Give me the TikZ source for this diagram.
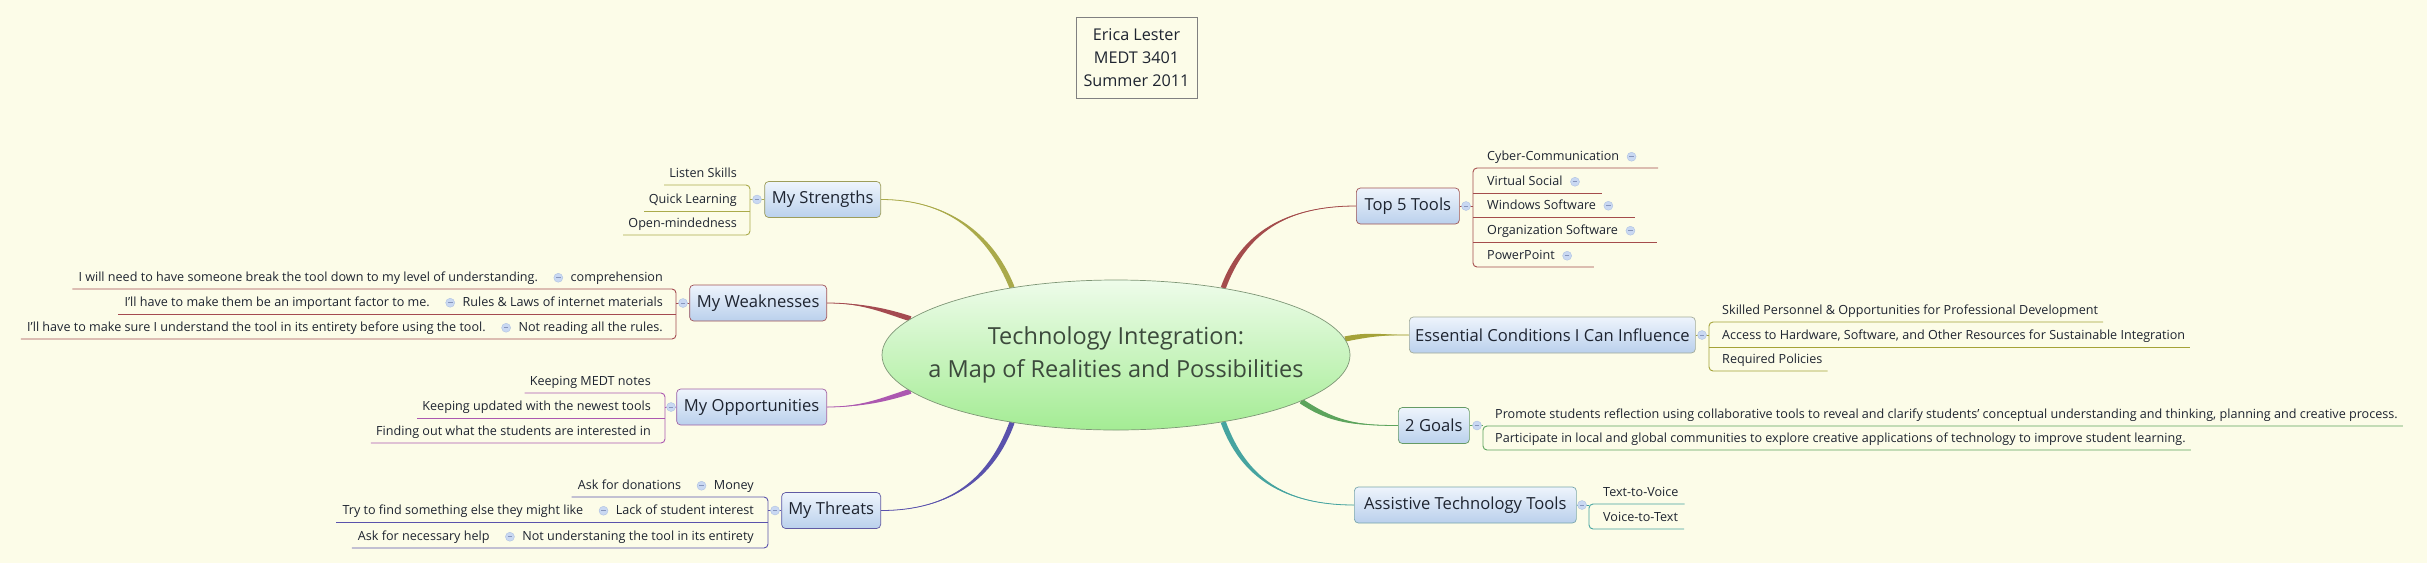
\documentclass[tikz,border=0pt]{standalone}
\usepackage{fontspec}
\setmainfont{Open Sans}
\usetikzlibrary{shapes.geometric,positioning,calc}

\definecolor{paper}{HTML}{FCFCE8}
\definecolor{inkdark}{HTML}{1E2430}
\definecolor{coreink}{HTML}{3C4A3C}
\definecolor{coretop}{HTML}{EEFCEA}
\definecolor{corebot}{HTML}{A4EC94}
\definecolor{corerim}{HTML}{7E9676}
\definecolor{boxtop}{HTML}{EEF4FC}
\definecolor{boxbot}{HTML}{BAD0EC}
\definecolor{knobfill}{HTML}{C9D8F2}
\definecolor{knobrim}{HTML}{AFC2E2}
\definecolor{knobbar}{HTML}{8796BC}
\definecolor{strc}{HTML}{AAAA4A}
\definecolor{weakc}{HTML}{A44A50}
\definecolor{oppc}{HTML}{AC58B0}
\definecolor{thrc}{HTML}{5A52AC}
\definecolor{topc}{HTML}{A44C4C}
\definecolor{essc}{HTML}{A4A238}
\definecolor{goalc}{HTML}{5CA45C}
\definecolor{asstc}{HTML}{46A4A0}

\pgfdeclarelayer{under}
\pgfsetlayers{under,main}

\newcommand{\limbto}[5]{%
  \path (#2) ++(#4) coordinate (lc);
  \fill[#1] ($(#2)!2.6pt!90:(lc)$) .. controls +(#4) and +(#5) .. (#3)
    .. controls +(#5) and +(#4) .. ($(#2)!2.6pt!-90:(lc)$) -- cycle;
  \draw[#1, line width=0.8pt] (#2) .. controls +(#4) and +(#5) .. (#3);
}

\begin{document}
\begin{tikzpicture}[x=1pt, y=-1pt,
  core/.style={ellipse, draw=corerim, line width=0.7pt, top color=coretop, bottom color=corebot,
    minimum width=468pt, minimum height=150pt, inner xsep=-30pt, inner ysep=0pt, align=center, text=coreink,
    font=\fontsize{23.5}{33}\selectfont},
  limbbox/.style={rounded corners=4pt, line width=0.7pt, top color=boxtop, bottom color=boxbot,
    minimum height=36pt, inner xsep=5pt, text=inkdark, font=\fontsize{16.6}{20}\selectfont},
  leaf/.style={inner sep=0pt, text height=9.5pt, text depth=3pt, text=inkdark,
    font=\fontsize{12.6}{15}\selectfont},
  knob/.style={circle, draw=knobrim, fill=knobfill, minimum size=9pt, inner sep=0pt,
    path picture={\draw[knobbar, line width=0.8pt] ([xshift=2.2pt]path picture bounding box.west)
      -- ([xshift=-2.2pt]path picture bounding box.east);}},
  twig/.style={line width=0.9pt, rounded corners=4pt}]
\useasboundingbox (0,0) rectangle (2427,563);

\node[draw=gray, line width=0.6pt, minimum width=121pt, minimum height=81pt, align=center,
  text=inkdark, font=\fontsize{16.2}{23}\selectfont] (stamp) at (1136.5,57.5) {Erica Lester\\MEDT 3401\\Summer 2011};

\node[core] (core) at (1116,355) {Technology Integration:\\a Map of Realities and Possibilities};

\node[limbbox, draw=strc!70!gray, minimum width=116pt, anchor=east] (str) at (881,199.5) {My Strengths};
\node[limbbox, draw=weakc!85!gray, minimum width=137pt, anchor=east] (weak) at (827,303) {My Weaknesses};
\node[limbbox, draw=oppc!75!gray, minimum width=150pt, anchor=east] (opp) at (827,407) {My Opportunities};
\node[limbbox, draw=thrc!80!gray, minimum width=99pt, anchor=east] (thr) at (881,510.5) {My Threats};
\node[limbbox, draw=topc!85!gray, minimum width=103pt, anchor=west] (top) at (1356,206) {Top 5 Tools};
\node[limbbox, draw=essc!40!boxbot!70!gray, minimum width=286pt, anchor=west] (ess) at (1409,335) {Essential Conditions I Can Influence};
\node[limbbox, draw=goalc!75!gray, minimum width=71pt, anchor=west] (goal) at (1398,425.5) {2 Goals};
\node[limbbox, draw=asstc!60!boxbot!70!gray, minimum width=222pt, anchor=west] (asst) at (1354,505) {Assistive Technology Tools};

% left side
\node[leaf, anchor=base east] (str1) at (737,177) {Listen Skills};
\node[leaf, anchor=base east] (str2) at (737,203) {Quick Learning};
\node[leaf, anchor=base east] (str3) at (737,227) {Open-mindedness};
\coordinate (strv1) at (750,185);
\coordinate (strv2) at (750,211);
\coordinate (strv3) at (750,235);
\draw[twig, strc] ($(str1.base west)+(-5,8)$) -- (strv1) -- (strv3) -- ($(str3.base west)+(-5,8)$);
\draw[twig, strc] (strv2) -- ($(str2.base west)+(-5,8)$);
\draw[twig, strc] (str.west) -- (str.west -| strv1);
\node[knob] (kstr) at (757,199.5) {};

\node[leaf, anchor=base east] (weak1) at (663,281) {comprehension};
\node[leaf, anchor=base east] (weak2) at (663,306) {Rules \& Laws of internet materials};
\node[leaf, anchor=base east] (weak3) at (663,331) {Not reading all the rules.};
\node[knob, left=7.5pt of weak1] (kweak1) {};
\node[knob, left=7.5pt of weak2] (kweak2) {};
\node[knob, left=7.5pt of weak3] (kweak3) {};
\node[leaf, left=15.5pt of kweak1] (weak1a) {I will need to have someone break the tool down to my level of understanding.};
\node[leaf, left=15.5pt of kweak2] (weak2a) {I'll have to make them be an important factor to me.};
\node[leaf, left=15.5pt of kweak3] (weak3a) {I'll have to make sure I understand the tool in its entirety before using the tool.};
\coordinate (weakv1) at (676,289);
\coordinate (weakv2) at (676,314);
\coordinate (weakv3) at (676,339);
\draw[twig, weakc] ($(weak1a.base west)+(-6,8)$) -- (weakv1) -- (weakv3) -- ($(weak3a.base west)+(-6,8)$);
\draw[twig, weakc] (weakv2) -- ($(weak2a.base west)+(-6,8)$);
\draw[twig, weakc] (weak.west) -- (weak.west -| weakv1);
\node[knob] (kweak) at (683,303) {};

\node[leaf, anchor=base east] (opp1) at (651,385) {Keeping MEDT notes};
\node[leaf, anchor=base east] (opp2) at (651,410) {Keeping updated with the newest tools};
\node[leaf, anchor=base east] (opp3) at (651,435) {Finding out what the students are interested in};
\coordinate (oppv1) at (665,393);
\coordinate (oppv2) at (665,418);
\coordinate (oppv3) at (665,443);
\draw[twig, oppc] ($(opp1.base west)+(-5,8)$) -- (oppv1) -- (oppv3) -- ($(opp3.base west)+(-5,8)$);
\draw[twig, oppc] (oppv2) -- ($(opp2.base west)+(-5,8)$);
\draw[twig, oppc] (opp.west) -- (opp.west -| oppv1);
\node[knob] (kopp) at (671,407) {};

\node[leaf, anchor=base east] (thr1) at (754,489) {Money};
\node[leaf, anchor=base east] (thr2) at (754,514) {Lack of student interest};
\node[leaf, anchor=base east] (thr3) at (754,540) {Not understaning the tool in its entirety};
\node[knob, left=7.5pt of thr1] (kthr1) {};
\node[knob, left=7.5pt of thr2] (kthr2) {};
\node[knob, left=7.5pt of thr3] (kthr3) {};
\node[leaf, left=15.5pt of kthr1] (thr1a) {Ask for donations};
\node[leaf, left=15.5pt of kthr2] (thr2a) {Try to find something else they might like};
\node[leaf, left=15.5pt of kthr3] (thr3a) {Ask for necessary help};
\coordinate (thrv1) at (768,497);
\coordinate (thrv2) at (768,522);
\coordinate (thrv3) at (768,548);
\draw[twig, thrc] ($(thr1a.base west)+(-6,8)$) -- (thrv1) -- (thrv3) -- ($(thr3a.base west)+(-6,8)$);
\draw[twig, thrc] (thrv2) -- ($(thr2a.base west)+(-6,8)$);
\draw[twig, thrc] (thr.west) -- (thr.west -| thrv1);
\node[knob] (kthr) at (775,510.5) {};

% right side
\node[leaf, anchor=base west] (top1) at (1487,160) {Cyber-Communication};
\node[leaf, anchor=base west] (top2) at (1487,185) {Virtual Social};
\node[leaf, anchor=base west] (top3) at (1487,209) {Windows Software};
\node[leaf, anchor=base west] (top4) at (1487,234) {Organization Software};
\node[leaf, anchor=base west] (top5) at (1487,259) {PowerPoint};
\node[knob, right=7.5pt of top1] (ktop1) {};
\node[knob, right=7.5pt of top2] (ktop2) {};
\node[knob, right=7.5pt of top3] (ktop3) {};
\node[knob, right=7.5pt of top4] (ktop4) {};
\node[knob, right=7.5pt of top5] (ktop5) {};
\coordinate (topv1) at (1473,168);
\coordinate (topv2) at (1473,193);
\coordinate (topv3) at (1473,217);
\coordinate (topv4) at (1473,242);
\coordinate (topv5) at (1473,267);
\draw[twig, topc] ($(ktop1.east |- topv1)+(22,0)$) -- (topv1) -- (topv5) -- ($(ktop5.east |- topv5)+(22,0)$);
\draw[twig, topc] (topv2) -- ($(ktop2.east |- topv2)+(22,0)$);
\draw[twig, topc] (topv3) -- ($(ktop3.east |- topv3)+(22,0)$);
\draw[twig, topc] (topv4) -- ($(ktop4.east |- topv4)+(22,0)$);
\draw[twig, topc] (top.east) -- (top.east -| topv1);
\node[knob] (ktop) at (1466,206) {};

\node[leaf, anchor=base west] (ess1) at (1722,314) {Skilled Personnel \& Opportunities for Professional Development};
\node[leaf, anchor=base west] (ess2) at (1722,339) {Access to Hardware, Software, and Other Resources for Sustainable Integration};
\node[leaf, anchor=base west] (ess3) at (1722,363) {Required Policies};
\coordinate (essv1) at (1709,322);
\coordinate (essv2) at (1709,347);
\coordinate (essv3) at (1709,371);
\draw[twig, essc] ($(ess1.base east)+(5,8)$) -- (essv1) -- (essv3) -- ($(ess3.base east)+(5,8)$);
\draw[twig, essc] (essv2) -- ($(ess2.base east)+(5,8)$);
\draw[twig, essc] (ess.east) -- (ess.east -| essv1);
\node[knob] (kess) at (1702,335) {};

\node[leaf, anchor=base west] (goal1) at (1495,418) {Promote students reflection using collaborative tools to reveal and clarify students' conceptual understanding and thinking, planning and creative process.};
\node[leaf, anchor=base west] (goal2) at (1495,442) {Participate in local and global communities to explore creative applications of technology to improve student learning.};
\coordinate (goalv1) at (1483,426);
\coordinate (goalv2) at (1483,450);
\draw[twig, goalc] ($(goal1.base east)+(5,8)$) -- (goalv1) -- (goalv2) -- ($(goal2.base east)+(5,8)$);
\draw[twig, goalc] (goal.east) -- (goal.east -| goalv1);
\node[knob] (kgoal) at (1477,425.5) {};

\node[leaf, anchor=base west] (asst1) at (1603,496) {Text-to-Voice};
\node[leaf, anchor=base west] (asst2) at (1603,521) {Voice-to-Text};
\coordinate (asstv1) at (1589,504);
\coordinate (asstv2) at (1589,529);
\draw[twig, asstc] ($(asst1.base east)+(6,8)$) -- (asstv1) -- (asstv2) -- ($(asst2.base east)+(6,8)$);
\draw[twig, asstc] (asst.east) -- (asst.east -| asstv1);
\node[knob] (kasst) at (1582,505) {};

\begin{pgfonlayer}{under}
\fill[paper] (0,0) rectangle (2427,563);
\limbto{strc}{core.147}{str.east}{-22,-55}{65,0}
\limbto{weakc}{core.170}{weak.east}{-25,-8}{35,0}
\limbto{oppc}{core.190}{opp.east}{-25,8}{35,0}
\limbto{thrc}{core.213}{thr.east}{-20,55}{70,0}
\limbto{topc}{core.32}{top.west}{20,-55}{-70,0}
\limbto{essc}{core.4}{ess.west}{25,-5}{-25,0}
\limbto{goalc}{core.346}{goal.west}{30,20}{-45,0}
\limbto{asstc}{core.328}{asst.west}{20,55}{-70,0}
\end{pgfonlayer}
\end{tikzpicture}
\end{document}
